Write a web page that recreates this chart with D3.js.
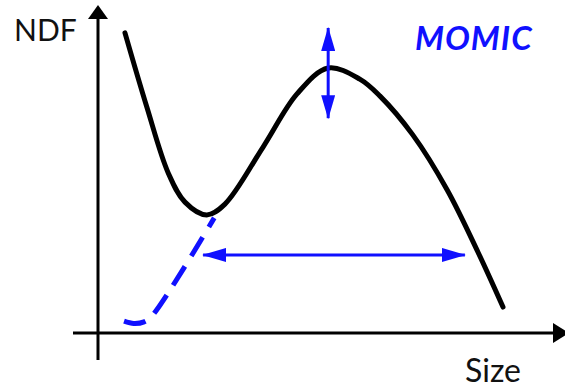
<!DOCTYPE html>
<html>
<head>
<meta charset="utf-8">
<script src="https://cdn.jsdelivr.net/npm/d3@7"></script>
<style>
    body { margin: 0; background: #fff; }
    svg { display: block; }
    text { font-family: Lato, "Open Sans", sans-serif; }
</style>
</head>
<body>
<div id="chart"></div>
<script>
// number density function (size, ndf) in arbitrary units
const ndfSize = [0.58, 1.05, 1.51, 1.87, 2.34, 2.73, 3.55, 4.28, 4.95, 5.63, 6.06, 6.77, 7.51, 8.17, 8.71];
const ndfValue = [9.15, 6.89, 4.88, 3.99, 3.60, 3.93, 5.67, 7.29, 8.08, 7.74, 7.23, 6.04, 4.36, 2.47, 0.79];

// dashed blue branch (small particles)
const dashSize = [0.56, 0.77, 0.99, 1.16, 2.50];
const dashValue = [0.36, 0.29, 0.34, 0.52, 3.51];

// width arrow (horizontal) and height arrow (vertical)
const widthArrow = { y: 2.38, from: 2.26, to: 7.89 };
const heightArrow = { x: 4.95, from: 6.55, to: 9.30 };

const yLabel = "NDF";
const xLabel = "Size";
const title = "MOMIC";

const W = 565, H = 390;
const blue = "#1010ff";

let svg = d3.select("#chart").append("svg")
    .attr("width", W)
    .attr("height", H);

// scales
let x = d3.scaleLinear().domain([0, 10]).range([98, 563]);
let y = d3.scaleLinear().domain([0, 10]).range([333, 5]);

// marker defs for arrows
let defs = svg.append("defs");
defs.append("marker")
    .attr("id", "blueHead")
    .attr("viewBox", "0 0 24 14")
    .attr("refX", 23)
    .attr("refY", 7)
    .attr("markerWidth", 24)
    .attr("markerHeight", 14)
    .attr("markerUnits", "userSpaceOnUse")
    .attr("orient", "auto-start-reverse")
    .append("path")
    .attr("d", "M0,0 L24,7 L0,14 Z")
    .attr("fill", blue);

// axes
let x0 = x(0), yBase = y(0);
svg.append("line")
    .attr("x1", x0).attr("x2", x0)
    .attr("y1", 17).attr("y2", 360)
    .attr("stroke", "#000").attr("stroke-width", 3);
svg.append("path")
    .attr("d", `M${x0},5 L${x0 + 10},19 L${x0 - 10},19 Z`)
    .attr("fill", "#000");

svg.append("line")
    .attr("x1", 73).attr("x2", 555)
    .attr("y1", yBase).attr("y2", yBase)
    .attr("stroke", "#000").attr("stroke-width", 3);
svg.append("path")
    .attr("d", `M569,${yBase} L553,${yBase - 10} L553,${yBase + 10} Z`)
    .attr("fill", "#000");

// ndf curve
let line = d3.line()
    .x(d => x(d[0]))
    .y(d => y(d[1]))
    .curve(d3.curveCatmullRom.alpha(0.5));

svg.append("path")
    .datum(d3.zip(ndfSize, ndfValue))
    .attr("d", line)
    .attr("fill", "none")
    .attr("stroke", "#000")
    .attr("stroke-width", 5)
    .attr("stroke-linecap", "round");

// dashed branch
svg.append("path")
    .datum(d3.zip(dashSize, dashValue))
    .attr("d", line)
    .attr("fill", "none")
    .attr("stroke", blue)
    .attr("stroke-width", 5)
    .attr("stroke-dasharray", "22,12");

// arrows
svg.append("line")
    .attr("x1", x(widthArrow.from)).attr("x2", x(widthArrow.to))
    .attr("y1", y(widthArrow.y)).attr("y2", y(widthArrow.y))
    .attr("stroke", blue).attr("stroke-width", 3)
    .attr("marker-start", "url(#blueHead)")
    .attr("marker-end", "url(#blueHead)");

svg.append("line")
    .attr("x1", x(heightArrow.x)).attr("x2", x(heightArrow.x))
    .attr("y1", y(heightArrow.from)).attr("y2", y(heightArrow.to))
    .attr("stroke", blue).attr("stroke-width", 3)
    .attr("marker-start", "url(#blueHead)")
    .attr("marker-end", "url(#blueHead)");

// labels
svg.append("text")
    .attr("x", 14).attr("y", 41)
    .attr("font-size", 30)
    .attr("fill", "#111")
    .text(yLabel);

svg.append("text")
    .attr("x", 465).attr("y", 382)
    .attr("font-size", 32)
    .attr("fill", "#111")
    .text(xLabel);

svg.append("text")
    .attr("x", 415).attr("y", 50)
    .attr("font-size", 33)
    .attr("font-weight", "bold")
    .attr("font-style", "italic")
    .attr("letter-spacing", 1)
    .attr("fill", blue)
    .text(title);
</script>
</body>
</html>
